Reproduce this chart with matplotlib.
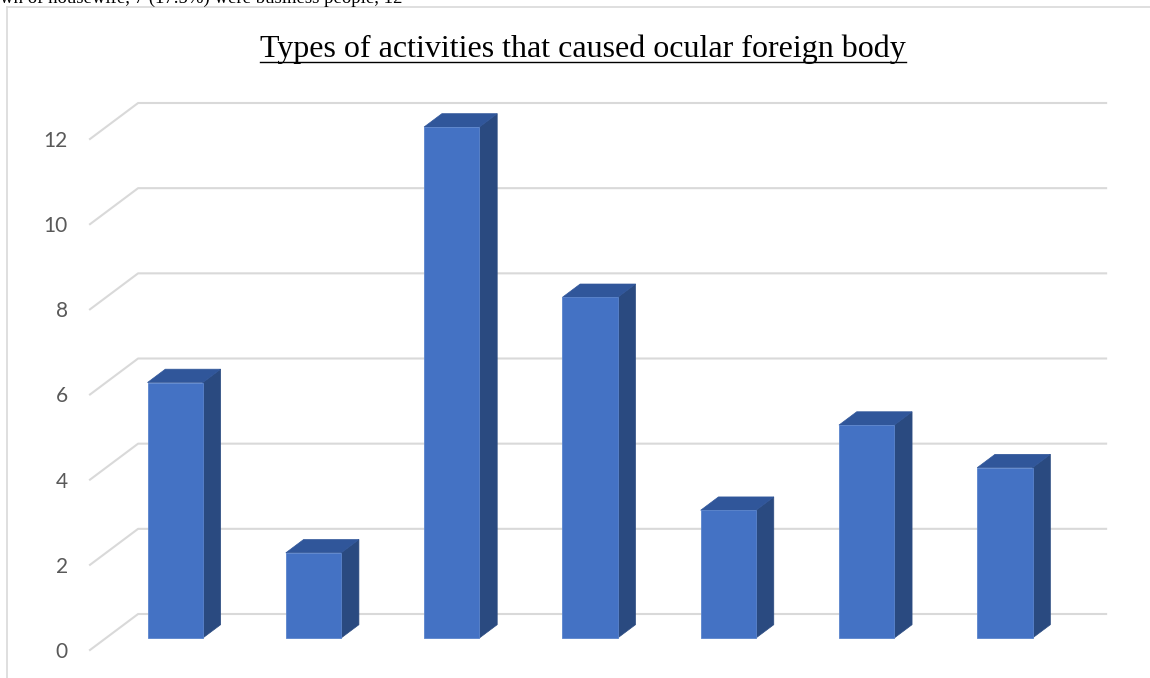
import matplotlib
matplotlib.use('Agg')
import matplotlib.pyplot as plt
from matplotlib.patches import Polygon
from matplotlib.lines import Line2D
import numpy as np

# data
counts = [6, 2, 12, 8, 3, 5, 4]
y_ticks = [0, 2, 4, 6, 8, 10, 12]
title = 'Types of activities that caused ocular foreign body'
page_text = 'wn of housewife, 7 (17.5%) were business people, 12'

front_col = '#4472C4'
top_col = '#30569A'
side_col = '#2A4A80'
grid_col = '#D9D9D9'

W, H = 1150, 678
fig = plt.figure(figsize=(W / 100, H / 100), dpi=100)

# front plane of the 3d box: value axis on y, category index on x
ax = fig.add_axes([90 / W, (H - 650) / H, 968 / W, 511 / H])
ax.set_xlim(-0.5, len(counts) - 0.5)
ax.set_ylim(0, 12)
for s in ax.spines.values():
    s.set_visible(False)
ax.set_xticks([])
ax.set_yticks(y_ticks)
ax.tick_params(axis='y', length=0, pad=16, labelsize=15, labelcolor='#595959')
for lab in ax.get_yticklabels():
    lab.set_family('Lato')

# depth of the box in data units (48 px right, 36 px up)
DX = 48 / 138
DY = 36 / (511 / 12)
x0, x1 = ax.get_xlim()

# gridlines: diagonal on the left side then along the back wall
for v in y_ticks:
    ax.add_line(Line2D([x0, x0 + DX, x1 + DX], [v, v + DY, v + DY],
                       color=grid_col, lw=1.5, clip_on=False, zorder=1))

bar_w = 0.4
t0, t1 = 1 / 3, 1 / 3 + 0.37
for i, v in enumerate(counts):
    xl = i - bar_w / 2 + t0 * DX
    xr = xl + bar_w
    yb = t0 * DY
    yt = v + t0 * DY
    ddx = (t1 - t0) * DX
    ddy = (t1 - t0) * DY
    side = Polygon([(xr, yb), (xr + ddx, yb + ddy), (xr + ddx, yt + ddy), (xr, yt)],
                   closed=True, facecolor=side_col, edgecolor=side_col, lw=0.5,
                   clip_on=False, zorder=3)
    top = Polygon([(xl, yt), (xr, yt), (xr + ddx, yt + ddy), (xl + ddx, yt + ddy)],
                  closed=True, facecolor=top_col, edgecolor=top_col, lw=0.5,
                  clip_on=False, zorder=3)
    front = Polygon([(xl, yb), (xr, yb), (xr, yt), (xl, yt)],
                    closed=True, facecolor=front_col, edgecolor='#5A84CC', lw=0.6,
                    clip_on=False, zorder=4)
    ax.add_patch(side)
    ax.add_patch(top)
    ax.add_patch(front)

# chart frame (only top and left visible in the crop)
fig.add_artist(Line2D([7 / W, 7 / W], [0, 1 - 7 / H], color=grid_col, lw=1.2))
fig.add_artist(Line2D([7 / W, 1], [1 - 7 / H, 1 - 7 / H], color=grid_col, lw=1.2))

# cut-off line of body text above the chart
fig.text(0, 1 - 3 / H, page_text, family='Liberation Serif', fontsize=13.5,
         ha='left', va='baseline', color='black')

t = fig.text(583 / W, 1 - 57 / H, title, family='Liberation Serif', fontsize=23,
             ha='center', va='baseline', color='black')

# underline the title
fig.canvas.draw()
bb = t.get_window_extent()
fig.add_artist(Line2D([bb.x0 / W, bb.x1 / W], [(H - 62) / H, (H - 62) / H],
                      color='black', lw=1.0))

fig.savefig('out.png', dpi=100)
